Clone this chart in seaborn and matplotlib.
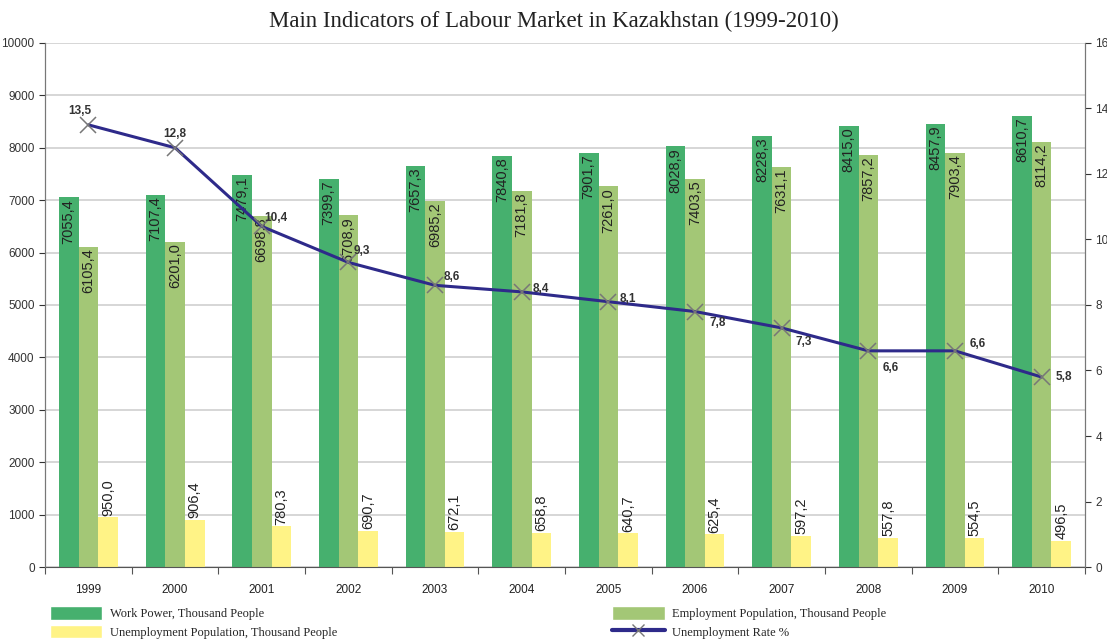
import matplotlib
matplotlib.use("Agg")
import matplotlib.pyplot as plt
from matplotlib.patches import Patch
from matplotlib.lines import Line2D
import numpy as np
import pandas as pd
import seaborn as sns

years = ["1999", "2000", "2001", "2002", "2003", "2004", "2005", "2006", "2007", "2008", "2009", "2010"]
work_power = [7055.4, 7107.4, 7479.1, 7399.7, 7657.3, 7840.8, 7901.7, 8028.9, 8228.3, 8415.0, 8457.9, 8610.7]
employment = [6105.4, 6201.0, 6698.8, 6708.9, 6985.2, 7181.8, 7261.0, 7403.5, 7631.1, 7857.2, 7903.4, 8114.2]
unemployment = [950.0, 906.4, 780.3, 690.7, 672.1, 658.8, 640.7, 625.4, 597.2, 557.8, 554.5, 496.5]
unemp_rate = [13.5, 12.8, 10.4, 9.3, 8.6, 8.4, 8.1, 7.8, 7.3, 6.6, 6.6, 5.8]

series_names = ["Work Power, Thousand People", "Employment Population, Thousand People",
                "Unemployment Population, Thousand People"]
rate_name = "Unemployment Rate %"
bar_colors = ["#46B06E", "#A3C776", "#FFF386"]
line_color = "#2E2A8A"

# where each rate label sits relative to its point (offset points)
rate_offsets = [(-6, 10), (0, 10), (10, 6), (10, 8), (12, 6), (14, 2), (14, 2),
                (16, -8), (16, -10), (16, -12), (16, 5), (16, 0)]

def fmt(v):
    return f"{v:.1f}".replace(".", ",")

df = pd.DataFrame({
    "year": years * 3,
    "value": work_power + employment + unemployment,
    "series": [series_names[0]] * 12 + [series_names[1]] * 12 + [series_names[2]] * 12,
})

sns.set_style("white")
plt.rcParams["font.family"] = ["Liberation Sans", "DejaVu Sans"]

fig = plt.figure(figsize=(11.07, 6.41), dpi=100)
ax = fig.add_axes([0.0407, 0.1154, 0.9394, 0.8176])

sns.barplot(data=df, x="year", y="value", hue="series", hue_order=series_names,
            palette=bar_colors, width=0.68, gap=0, saturation=1, linewidth=0,
            ax=ax, legend=False)

ax.set_ylim(0, 10000)
ax.set_yticks(np.arange(0, 10001, 1000))
ax.set_xlim(-0.5, 11.5)
ax.yaxis.grid(True, color="#CFCFCF", lw=1.2)
ax.set_axisbelow(True)
ax.set_xlabel("")
ax.set_ylabel("")
ax.tick_params(axis="y", labelsize=8.5, colors="#333333", length=4, width=0.8, direction="out", left=True)
ax.tick_params(axis="x", which="major", labelsize=8.5, colors="#222222", length=0, pad=12)
ax.set_xticks(np.arange(-0.5, 12, 1), minor=True)
ax.tick_params(axis="x", which="minor", length=5, width=0.8, color="#555555", bottom=True)
ax.spines["top"].set_visible(False)
ax.spines["left"].set_color("#777777")
ax.spines["right"].set_color("#777777")
ax.spines["bottom"].set_color("#555555")

# value labels on bars
for i, cont in enumerate(ax.containers):
    for p, v in zip(cont.patches, [work_power, employment, unemployment][i]):
        xc = p.get_x() + p.get_width() / 2
        h = p.get_height()
        if i < 2:
            ax.text(xc, h - 30, fmt(v), rotation=90, ha="center", va="top", fontsize=10.5, color="#222222")
        else:
            ax.text(xc, h + 30, fmt(v), rotation=90, ha="center", va="bottom", fontsize=10.5, color="#222222")

ax2 = ax.twinx()
sns.pointplot(x=years, y=unemp_rate, ax=ax2, color=line_color, markers="x", linestyles="-",
              linewidth=2.2, markersize=11, markeredgecolor="#777777", markeredgewidth=1.1)
ax2.set_ylim(0, 16)
ax2.set_yticks(np.arange(0, 17, 2))
ax2.set_xlim(-0.5, 11.5)
ax2.tick_params(axis="y", labelsize=8.5, colors="#333333", length=4, width=0.8, direction="out", right=True)
ax2.spines["top"].set_visible(False)
ax2.spines["right"].set_color("#777777")
ax2.spines["left"].set_color("#777777")
ax2.spines["bottom"].set_visible(False)
ax2.grid(False)

for i, v in enumerate(unemp_rate):
    ax2.annotate(fmt(v), (i, v), xytext=rate_offsets[i], textcoords="offset points",
                 ha="center", va="center", fontsize=8.5, fontweight="bold", color="#333333")

fig.suptitle("Main Indicators of Labour Market in Kazakhstan (1999-2010)", y=0.983,
             fontsize=16.5, family=["Liberation Serif", "DejaVu Serif"], color="#222222")

handles = [
    Patch(facecolor=bar_colors[0], label=series_names[0]),
    Patch(facecolor=bar_colors[2], label=series_names[2]),
    Patch(facecolor=bar_colors[1], label=series_names[1]),
    Line2D([0], [0], color=line_color, lw=3, marker="x", markeredgecolor="#777777",
           markersize=9, label=rate_name),
]
fig.legend(handles=handles, ncol=2, loc="lower left", bbox_to_anchor=(0.035, -0.014),
           frameon=False, prop={"family": "Liberation Serif", "size": 9},
           handlelength=4.2, handleheight=1.3, columnspacing=22.0, labelspacing=0.35,
           handletextpad=0.6)

fig.savefig("out.png", dpi=100)
